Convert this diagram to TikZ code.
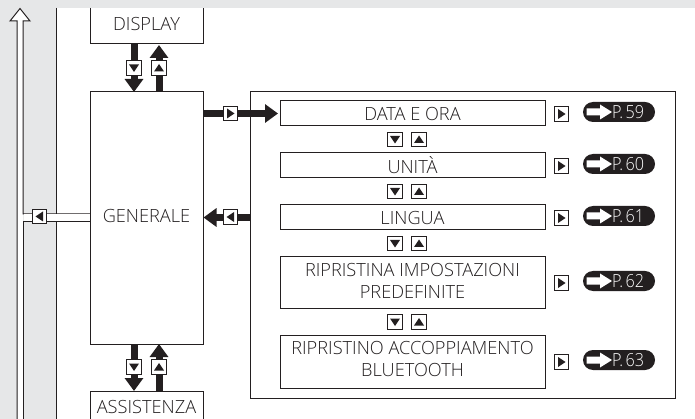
\documentclass[tikz,border=0pt]{standalone}
\usepackage{fontspec}
\setmainfont{Open Sans}[UprightFont=* Light]
\usetikzlibrary{arrows.meta,calc}
\definecolor{pagegray}{HTML}{E6E7E8}
\definecolor{ink}{HTML}{231F20}
\tikzset{
  x=1pt,y=-1pt,
  labelfont/.style={font=\fontsize{18.2}{22}\selectfont,text=ink},
  box/.style={draw=ink,line width=1pt,fill=white,minimum width=#1,inner sep=0pt,align=center,labelfont},
  keybox/.style={draw=ink,line width=1pt,fill=white,minimum size=14.5pt,inner sep=0pt},
  heavy/.style={line width=7pt,draw=ink,-{Triangle[length=13pt,width=18pt,fill=ink]}},
  pill/.style={fill=ink,rounded corners=10pt,minimum width=72pt,minimum height=20pt,inner sep=0pt},
}
\newcommand{\keyicon}[3]{% name, position, rotation
  \node[keybox] (#1) at (#2) {};
  \fill[ink,rotate around={#3:(#1.center)}] ($(#1.center)+(-5,-3.5)$) -- ($(#1.center)+(5,-3.5)$) -- ($(#1.center)+(0,4)$) -- cycle;
}
\newcommand{\refpill}[3]{% name, y, text
  \node[pill] (#1) at (619,#2) {};
  \fill[white] ($(#1.center)+(-32.5,-3.5)$) -- ($(#1.center)+(-19,-3.5)$) -- ($(#1.center)+(-19,-7.5)$) -- ($(#1.center)+(-7,0)$) -- ($(#1.center)+(-19,7.5)$) -- ($(#1.center)+(-19,3.5)$) -- ($(#1.center)+(-32.5,3.5)$) -- cycle;
  \node[text=white,inner sep=0pt,anchor=west,font=\fontsize{18}{19}\selectfont] at ($(#1.west)+(29,0)$) {\addfontfeature{FakeStretch=0.9}P.\kern2.5pt #3};
}
\begin{document}
\begin{tikzpicture}
\useasboundingbox (0,0) rectangle (695,419);
\fill[pagegray] (0,0) rectangle (695,8);
\fill[pagegray] (0,0) rectangle (56,419);
\coordinate (railtop) at (56,8);
\coordinate (railbot) at (56,419);
\draw[ink,line width=1pt] (railtop) -- (railbot);

% big return arrow
\coordinate (tip) at (20,8.5);
\coordinate (ll) at (17,419);
\coordinate (rl) at (23,419);
\coordinate (rj) at (23,214);
\coordinate (rk) at (23,221.5);
\coordinate (genl) at (90,214);
\coordinate (genm) at (90,221.5);
\fill[white] (tip) -- (30,21) -- (23,21) -- (rl) -- (ll) -- (17,21) -- (10,21) -- cycle;
\draw[ink,line width=1pt,line join=miter] (ll) -- (17,21) -- (10,21) -- (tip) -- (30,21) -- (23,21) -- (rj) -- (genl);
\draw[ink,line width=1pt] (rl) -- (rk) -- (genm);
\fill[white] (23.6,214.5) rectangle (90,221);

% menu boxes
\fill[white] (89,8) rectangle (204,44);
\draw[ink,line width=1pt] (90,8) |- (203,44) -- (203,8);
\node[labelfont,inner sep=0pt] (display) at (146.5,24) {DISPLAY};
\node[box=113pt,minimum height=252pt] (genbox) at (146.5,218) {};
\node[labelfont,inner sep=0pt] (generale) at (146.5,216) {GENERALE};
\fill[white] (89,391) rectangle (204,419);
\draw[ink,line width=1pt] (90,419) |- (203,391) -- (203,419);
\node[labelfont,inner sep=0pt] (assistenza) at (146.5,407) {ASSISTENZA};

% panel
\node[draw=ink,line width=1pt,fill=white,minimum width=425pt,minimum height=306pt,inner sep=0pt] (panel) at (462.5,245) {};
\node[box=265pt,minimum height=25pt] (data) at (412.5,113.5) {DATA E ORA};
\node[box=265pt,minimum height=25pt] (unita) at (412.5,165.5) {UNITÀ};
\node[box=265pt,minimum height=25pt] (lingua) at (412.5,217.5) {LINGUA};
\node[box=265pt,minimum height=51pt] (riprbox) at (412.5,282.5) {};
\node[labelfont,align=center,inner sep=0pt] (ripr) at (412.5,281) {RIPRISTINA IMPOSTAZIONI\\PREDEFINITE};
\node[box=265pt,minimum height=53pt] (btbox) at (412.5,362) {};
\node[labelfont,align=center,inner sep=0pt] (bt) at (412.5,359) {RIPRISTINO ACCOPPIAMENTO\\BLUETOOTH};

% heavy arrows
\draw[heavy] (134,44) -- (134,92);
\draw[heavy] (159,92) -- (159,45);
\draw[heavy] (134,344) -- (134,391);
\draw[heavy] (159,391) -- (159,344);
\draw[heavy,shorten >=1.5pt] (genbox.east |- data) -- (data.west);
\draw[heavy] (panel.west |- lingua) -- (genbox.east |- lingua);

% key icons
\keyicon{k1}{134,68}{0}
\keyicon{k2}{159,68}{180}
\keyicon{k3}{134,367}{0}
\keyicon{k4}{159,367}{180}
\keyicon{k5}{230.5,113.5}{90}
\keyicon{k6}{230.5,217}{-90}
\keyicon{k7}{39.5,216.5}{-90}
\keyicon{a1}{395,139.5}{0}
\keyicon{a2}{419,139.5}{180}
\keyicon{b1}{395,191.5}{0}
\keyicon{b2}{419,191.5}{180}
\keyicon{c1}{395,243.5}{0}
\keyicon{c2}{419,243.5}{180}
\keyicon{d1}{395,322}{0}
\keyicon{d2}{419,322}{180}
\keyicon{r1}{561.5,114}{90}
\keyicon{r2}{561.5,166}{90}
\keyicon{r3}{561.5,218}{90}
\keyicon{r4}{561.5,283}{90}
\keyicon{r5}{561.5,362}{90}

% page refs
\refpill{p1}{112}{59}
\refpill{p2}{164}{60}
\refpill{p3}{216}{61}
\refpill{p4}{281}{62}
\refpill{p5}{360}{63}
\end{tikzpicture}
\end{document}
